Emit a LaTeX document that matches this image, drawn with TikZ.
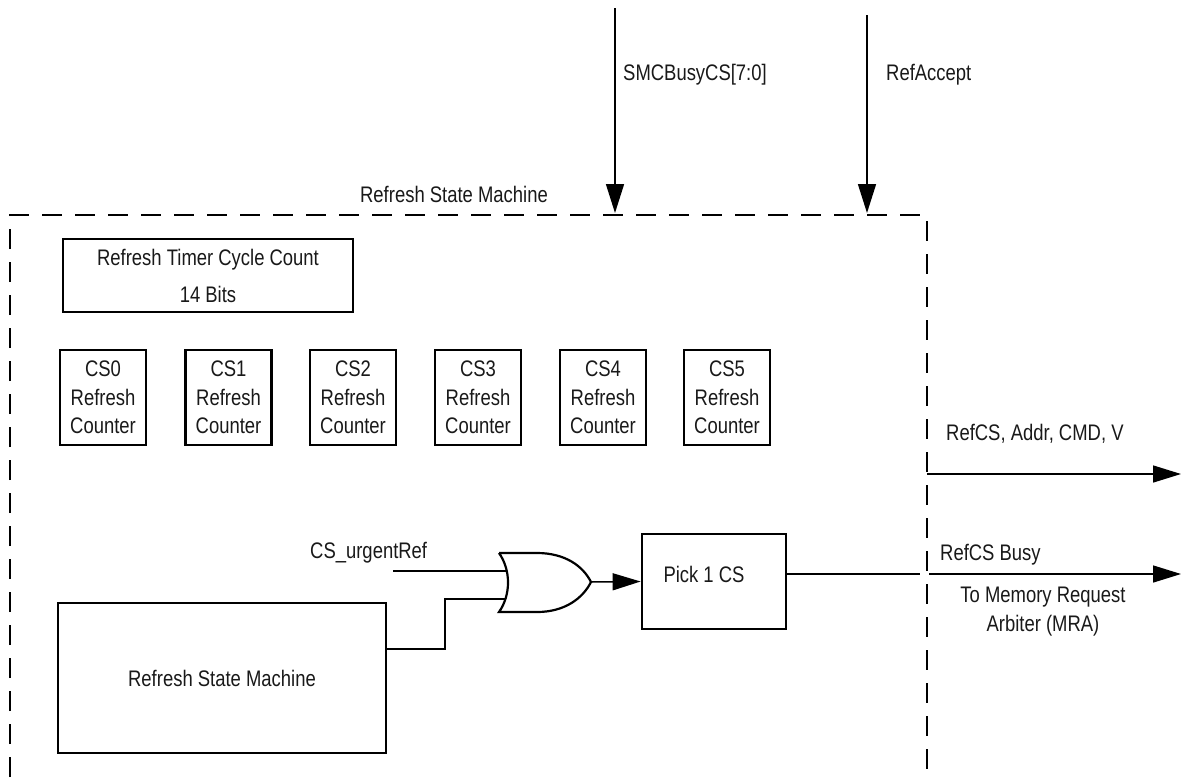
\documentclass[tikz,border=0pt]{standalone}
\usepackage{fontspec}
\setmainfont{Liberation Sans}[FakeStretch=0.82]
\usetikzlibrary{arrows.meta}
\begin{document}
\begin{tikzpicture}[x=1pt,y=-1pt,
  every node/.style={font=\fontsize{22.5}{28.5}\selectfont, inner sep=0pt, text=black!90},
  blk/.style={draw=black, line width=2.8pt, align=center},
  lbl/.style={anchor=base},
  wire/.style={line width=1.5pt},
  arr/.style={line width=1.5pt, -{Triangle[length=29pt,width=18pt]}},
  harr/.style={line width=1.5pt, -{Triangle[length=28pt,width=17pt]}},
  frame/.style={line width=2.2pt, dash pattern=on 20pt off 13pt}
]
\useasboundingbox (0,0) rectangle (1183,777);

% dashed frame
\draw[frame] (10,777) -- (10,215) -- (927,215) -- (927,777);
\node[lbl] (title) at (454,202) {Refresh State Machine};

% top inputs
\coordinate (smcsrc) at (615,8);
\coordinate (smcdst) at (615,213);
\coordinate (racsrc) at (867,15);
\coordinate (racdst) at (867,213);
\draw[arr] (smcsrc) -- (smcdst);
\draw[arr] (racsrc) -- (racdst);
\node[lbl, anchor=base west] (smclbl) at (623,80) {SMCBusyCS[7:0]};
\node[lbl, anchor=base west] (raclbl) at (886,80) {RefAccept};

% timer
\node[blk, minimum width=290pt, minimum height=73pt, font=\fontsize{22.5}{37}\selectfont] (timer) at (208,275.5) {Refresh Timer Cycle Count\\14 Bits};

% counters
\foreach \i/\xc in {0/103,1/228.5,2/353,3/478,4/603,5/727}{
  \node[blk, minimum width=86pt, minimum height=95pt] (cs\i) at (\xc,397.5) {CS\i\\Refresh\\Counter};
}

% state machine
\node[blk, minimum width=328pt, minimum height=150pt] (rsm) at (222,678) {Refresh State Machine};

% OR gate
\coordinate (g1) at (499,553);
\coordinate (g2) at (499,612);
\coordinate (gout) at (591,582);
\coordinate (gin1) at (506,571);
\coordinate (gin2) at (506,599);
\draw[line width=2.2pt] (g1) -- (537,553) .. controls (565,553) and (583,566) .. (gout)
  .. controls (583,598) and (565,612) .. (537,612) -- (g2)
  .. controls (511,595) and (511,570) .. (g1);

% pick
\node[blk, minimum width=144pt, minimum height=95pt] (pick) at (714,581.5) {};
\node[lbl] (picklbl) at (704,582) {Pick 1 CS};

% wires
\coordinate (urg) at (393,571);
\node[lbl, anchor=base west] (urglbl) at (310,558) {CS\_urgentRef};
\draw[wire] (urg) -- (gin1);
\draw[wire] ([yshift=29pt]rsm.east) -- (445,649) -- (445,599) -- (gin2);
\draw[harr] (gout) -- (pick.west);

% outputs
\coordinate (busyend) at (920,574);
\coordinate (busya) at (929,574);
\coordinate (busyb) at (1181,574);
\draw[wire] ([yshift=7.5pt]pick.east) -- (busyend);
\draw[harr] (busya) -- (busyb);
\coordinate (ra) at (927,474);
\coordinate (rb) at (1181,474);
\draw[harr] (ra) -- (rb);

\node[lbl, anchor=base west] (reflbl) at (946,440) {RefCS, Addr, CMD, V};
\node[lbl, anchor=base west] (busylbl) at (940,560) {RefCS Busy};
\node[lbl] (mra1) at (1043,602) {To Memory Request};
\node[lbl] (mra2) at (1043,631) {Arbiter (MRA)};
\end{tikzpicture}
\end{document}
